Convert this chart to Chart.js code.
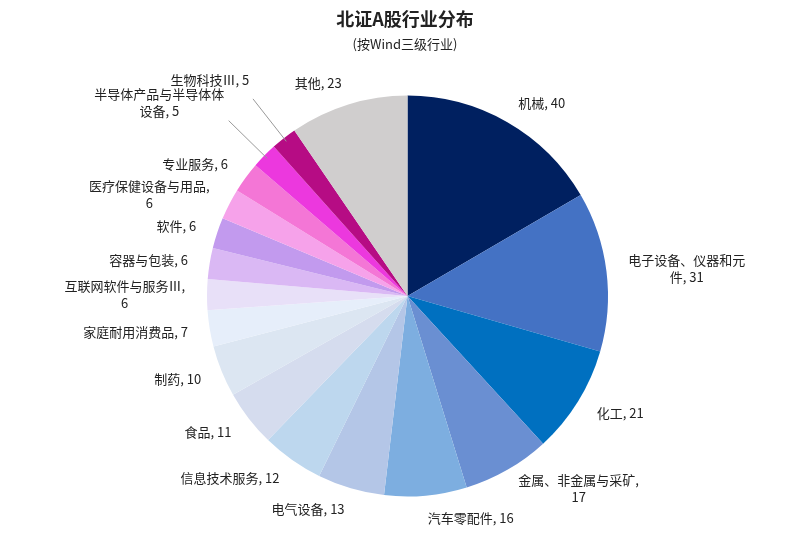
<!DOCTYPE html>
<html><head><meta charset="utf-8">
<script src="https://cdn.jsdelivr.net/npm/chart.js@4"></script>
<style>body{margin:0;background:#fff}</style>
</head><body>
<canvas id="c" width="811" height="536"></canvas>
<script>
const labels = ["机械","电子设备、仪器和元件","化工","金属、非金属与采矿","汽车零配件","电气设备","信息技术服务","食品","制药","家庭耐用消费品","互联网软件与服务Ⅲ","容器与包装","软件","医疗保健设备与用品","专业服务","半导体产品与半导体设备","生物科技Ⅲ","其他"];
const values = [40,31,21,17,16,13,12,11,10,7,6,6,6,6,6,5,5,23];
const colors = ["#002060","#4472C4","#0070C0","#6A8FD2","#7DAEE0","#B4C6E7","#BDD7EE","#D5DCEE","#DCE6F2","#E6EEFA","#E8E0F8","#DAB8F4","#C29AEE","#F6A2EA","#F476D6","#EC38DE","#B60C84","#D0CECE"];
// how each label breaks into lines
const labelLines = [
  ["机械, 40"],["电子设备、仪器和元","件, 31"],["化工, 21"],["金属、非金属与采矿,","17"],["汽车零配件, 16"],
  ["电气设备, 13"],["信息技术服务, 12"],["食品, 11"],["制药, 10"],["家庭耐用消费品, 7"],
  ["互联网软件与服务Ⅲ,","6"],["容器与包装, 6"],["软件, 6"],["医疗保健设备与用品,","6"],["专业服务, 6"],
  ["半导体产品与半导体体","设备, 5"],["生物科技Ⅲ, 5"],["其他, 23"]
];

const labelPlugin = {
  id: "outLabels",
  afterDraw(chart) {
    const ctx = chart.ctx;
    ctx.save();
    ctx.fillStyle = "#222";
    ctx.textAlign = "center";
    ctx.font = "bold 18px 'Noto Sans CJK SC'";
    ctx.fillText("北证A股行业分布", 405, 26);
    ctx.font = "13px 'Noto Sans CJK SC'";
    ctx.fillText("(按Wind三级行业)", 405, 49);
    ctx.font = "13px 'Noto Sans CJK SC'";
    ctx.textBaseline = "middle";
    chart.getDatasetMeta(0).data.forEach((arc, i) => {
      const a = (arc.startAngle + arc.endAngle) / 2;
      const far = i === 15 || i === 16;
      const rr = arc.outerRadius + (far ? 60 : 22);
      let x = arc.x + Math.cos(a) * rr, y = arc.y + Math.sin(a) * rr;
      if (far) {
        ctx.strokeStyle = "#999"; ctx.lineWidth = 1;
        ctx.beginPath();
        ctx.moveTo(arc.x + Math.cos(a) * (arc.outerRadius - 4), arc.y + Math.sin(a) * (arc.outerRadius - 4));
        ctx.lineTo(arc.x + Math.cos(a) * (rr - 10), arc.y + Math.sin(a) * (rr - 10));
        ctx.stroke();
        x = arc.x + Math.cos(a) * (rr - 4); y = arc.y + Math.sin(a) * (rr - 4) - 14;
      }
      const lines = labelLines[i];
      const w = Math.max(...lines.map(l => ctx.measureText(l).width));
      const right = Math.cos(a) >= 0;
      const cx = right ? x + w / 2 : x - w / 2;
      const lh = 17, y0 = y - (lines.length - 1) * lh / 2;
      lines.forEach((l, k) => ctx.fillText(l, cx, y0 + k * lh));
    });
    ctx.restore();
  }
};

new Chart(document.getElementById("c"), {
  type: "pie",
  data: { labels, datasets: [{ data: values, backgroundColor: colors, borderWidth: 0 }] },
  options: {
    responsive: false, animation: false,
    layout: { padding: { top: 95, bottom: 39, left: 207, right: 203 } },
    plugins: { legend: { display: false }, tooltip: { enabled: false } }
  },
  plugins: [labelPlugin]
});
</script>
</body></html>
